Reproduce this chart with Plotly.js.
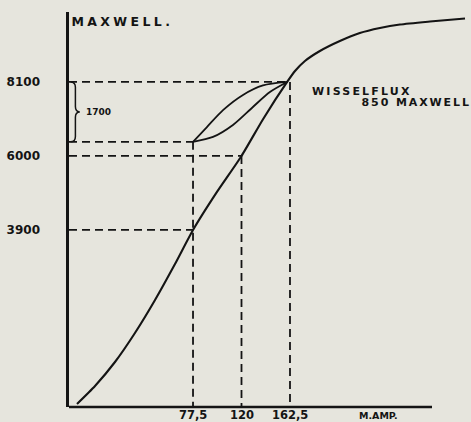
<!DOCTYPE html>
<html>
<head>
<meta charset="utf-8">
<script src="https://cdn.plot.ly/plotly-3.0.1.min.js"></script>
<style>
  html, body { margin: 0; padding: 0; background: #e6e5dd; }
  #chart { width: 471px; height: 422px; }
  .annotation[data-index="0"] text { letter-spacing: 3.4px; }
  .annotation[data-index="1"] text { letter-spacing: 2.2px; }
  .annotation[data-index="2"] text { letter-spacing: 1.9px; }
</style>
</head>
<body>
<div id="chart"></div>
<script>
// ---- data ----
// magnetisation curve (M.AMP. -> MAXWELL)
const curveX = [-24.2, -8.4, 9.1, 26.6, 44.2, 61.7, 77.5, 98.5, 120, 139, 160, 166.9, 175.6, 188.7, 206.2, 223.7, 241.3, 258.9, 285.2, 315.9];
const curveY = [-1039, -528, 153, 976, 1913, 2934, 3900, 4980, 6000, 7050, 8100, 8410, 8694, 8978, 9262, 9489, 9631, 9730, 9815, 9901];
// hysteresis loop (upper and lower branch)
const loopUpperX = [77.5, 89.7, 103.8, 121.3, 138.8, 160];
const loopUpperY = [6400, 6820, 7300, 7730, 8000, 8100];
const loopLowerX = [77.5, 95, 112.5, 130, 144.9, 160];
const loopLowerY = [6400, 6540, 6880, 7390, 7815, 8100];
// marked values
const xTickVals = [77.5, 120, 162.5];
const xTickText = ['77,5', '120', '162,5'];
const yTickVals = [3900, 6000, 8100];
const yTickText = ['3900', '6000', '8100'];
const loopBottom = 6400;     // 8100 - 1700
const loopTop = 8100;
const swingLabel = '1700';
// dashed guides: horizontal [x end, y], vertical [x, y top]
const guideHx = [77.5, 162.5, 120, 77.5];
const guideHy = [6400, 8100, 6000, 3900];
const guideVx = [77.5, 120, 162.5];
const guideVy = [6400, 6000, 8100];

// ---- layout constants ----
const X_MIN = -31.2, X_MAX = 319.4;
const Y_MIN = -1124, Y_MAX = 10085;
const INK = '#141414';
const FONT = 'DejaVu Sans';

const traces = [];
const dash = '8px,5px';
guideHx.forEach((xv, i) => {
  traces.push({ x: [X_MIN, xv], y: [guideHy[i], guideHy[i]], mode: 'lines',
    line: { color: INK, width: 1.8, dash: dash }, hoverinfo: 'skip' });
});
guideVx.forEach((xv, i) => {
  traces.push({ x: [xv, xv], y: [guideVy[i], Y_MIN], mode: 'lines',
    line: { color: INK, width: 1.8, dash: dash }, hoverinfo: 'skip' });
});
traces.push({ x: curveX, y: curveY, mode: 'lines',
  line: { color: INK, width: 2.1, shape: 'spline', smoothing: 0.6 }, hoverinfo: 'skip' });
traces.push({ x: loopUpperX, y: loopUpperY, mode: 'lines',
  line: { color: INK, width: 1.8, shape: 'spline', smoothing: 0.8 }, hoverinfo: 'skip' });
traces.push({ x: loopLowerX, y: loopLowerY, mode: 'lines',
  line: { color: INK, width: 1.8, shape: 'spline', smoothing: 0.8 }, hoverinfo: 'skip' });

// brace between loopTop and loopBottom (x in paper units, y in data units)
const mid = (loopTop + loopBottom) / 2;
const e = 150;
const a = 0.004, b = 0.016, c = 0.027;
const bracePath = `M ${a},${loopTop} Q ${b},${loopTop} ${b},${loopTop - e} L ${b},${mid + e} Q ${b},${mid} ${c},${mid} Q ${b},${mid} ${b},${mid - e} L ${b},${loopBottom + e} Q ${b},${loopBottom} ${a},${loopBottom}`;

const tickFont = { family: FONT, size: 11.5, color: INK, weight: 'bold' };

const annotations = [
  { text: 'MAXWELL.', xref: 'paper', yref: 'paper', x: 0, y: 1, xanchor: 'left', yanchor: 'middle',
    xshift: 13.5, yshift: -9, showarrow: false,
    font: { family: FONT, size: 12.5, color: INK, weight: 'bold' } },
  { text: 'WISSELFLUX', xref: 'x', yref: 'y', x: xTickVals[2], y: yTickVals[2], xanchor: 'left', yanchor: 'middle',
    xshift: 31, yshift: -10, showarrow: false,
    font: { family: FONT, size: 11, color: INK, weight: 'bold' } },
  { text: '850 MAXWELL', xref: 'x', yref: 'y', x: xTickVals[2], y: yTickVals[2], xanchor: 'left', yanchor: 'middle',
    xshift: 80, yshift: -21, showarrow: false,
    font: { family: FONT, size: 11, color: INK, weight: 'bold' } },
  { text: swingLabel, xref: 'paper', yref: 'y', x: 0, y: mid, xanchor: 'left', yanchor: 'middle',
    xshift: 15, showarrow: false,
    font: { family: FONT, size: 9, color: INK, weight: 'bold' } },
  { text: 'M.AMP.', xref: 'paper', yref: 'paper', x: 0.72, y: 0, xanchor: 'left', yanchor: 'middle',
    yshift: -8, showarrow: false,
    font: { family: FONT, size: 9.5, color: INK, weight: 'bold' } }
];
xTickVals.forEach((xv, i) => {
  annotations.push({ text: xTickText[i], xref: 'x', yref: 'paper', x: xv, y: 0,
    xanchor: 'center', yanchor: 'middle', yshift: -7.5, showarrow: false, font: tickFont });
});

const layout = {
  width: 471, height: 422,
  margin: { l: 69, r: 2, t: 12, b: 15 },
  paper_bgcolor: '#e6e5dd',
  plot_bgcolor: '#e6e5dd',
  showlegend: false,
  xaxis: {
    range: [X_MIN, X_MAX], showgrid: false, zeroline: false, showline: false,
    showticklabels: false, ticks: '', fixedrange: true
  },
  yaxis: {
    range: [Y_MIN, Y_MAX], showgrid: false, zeroline: false,
    showline: true, linecolor: INK, linewidth: 2.6,
    tickvals: yTickVals, ticktext: yTickText,
    ticks: 'outside', ticklen: 24, tickcolor: 'rgba(0,0,0,0)',
    tickfont: { family: FONT, size: 12, color: INK, weight: 'bold' },
    fixedrange: true
  },
  shapes: [
    { type: 'line', xref: 'paper', yref: 'paper', x0: 0, x1: 0.9075, y0: 0, y1: 0,
      line: { color: INK, width: 2.6 } },
    { type: 'path', xref: 'paper', yref: 'y', path: bracePath,
      line: { color: INK, width: 1.5 } }
  ],
  annotations: annotations
};

Plotly.newPlot('chart', traces, layout, { staticPlot: true, displayModeBar: false });
</script>
</body>
</html>
